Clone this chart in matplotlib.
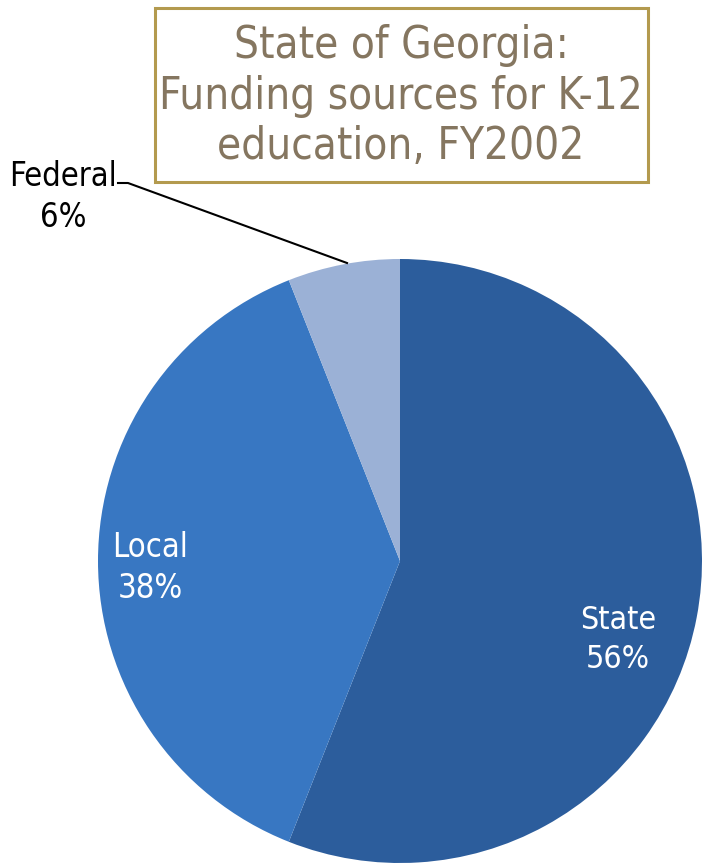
import matplotlib
matplotlib.use("Agg")
import matplotlib.pyplot as plt
from matplotlib.patches import Rectangle

labels = ["State", "Local", "Federal"]
shares = [56, 38, 6]
colors = ["#2c5d9c", "#3877c2", "#9bb1d6"]
title = "State of Georgia:\nFunding sources for K-12\neducation, FY2002"

plt.rcParams['font.family'] = ['DejaVu Sans']
plt.rcParams['font.stretch'] = 'condensed'

W, H = 702, 866
fig = plt.figure(figsize=(W / 100, H / 100), dpi=100)
ax = fig.add_axes([0, 0, 1, 1])

# pie centre / radius in pixel units (y from bottom)
cx, cy, r = 400, H - 561, 302
wedges, _ = ax.pie(shares, colors=colors, startangle=90, counterclock=False,
                   center=(cx, cy), radius=r, frame=True,
                   wedgeprops=dict(linewidth=0))
ax.set_xlim(0, W)
ax.set_ylim(0, H)
ax.set_aspect('equal')
ax.axis('off')

# slice labels
ax.text(618, H - 640, "{}\n{}%".format(labels[0], shares[0]), color="white",
        fontsize=23, ha="center", va="center", linespacing=1.3)
ax.text(150, H - 568, "{}\n{}%".format(labels[1], shares[1]), color="white",
        fontsize=23.5, ha="center", va="center", linespacing=1.3)
ax.text(63, H - 197, "{}\n{}%".format(labels[2], shares[2]), color="black",
        fontsize=23.5, ha="center", va="center", linespacing=1.3)
ax.plot([118, 128, 347], [H - 183, H - 183, H - 263], color="black", lw=1.5)

# title box
ax.add_patch(Rectangle((155, H - 182), 493, 174, fill=False,
                       edgecolor="#b39a4e", lw=2.2))
ax.text(401, H - 96, title, color="#857660", fontsize=31.5, ha="center",
        va="center", linespacing=1.22)

fig.savefig("out.png", dpi=100)
